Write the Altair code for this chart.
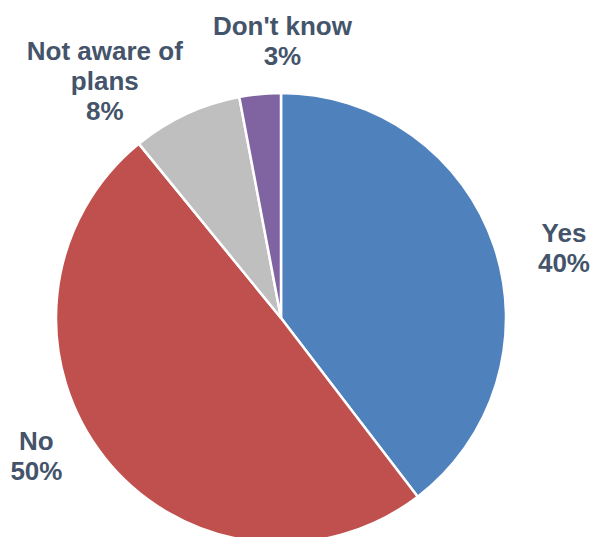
import altair as alt
import pandas as pd

categories = ["Yes", "No", "Not aware of plans", "Don't know"]
values = [40, 50, 8, 3]
labels = ["Yes\n40%", "No\n50%", "Not aware of\nplans\n8%", "Don't know\n3%"]
colors = ["#4F81BD", "#C0504D", "#BFBFBF", "#8064A2"]

df = pd.DataFrame({
    "cat": categories,
    "value": values,
    "label": labels,
    "idx": list(range(len(categories))),
})

CX, CY, R = 281, 318, 225
LR = 285
text_color = "#44546A"

base = alt.Chart(df).encode(
    theta=alt.Theta("value:Q", stack=True),
    order=alt.Order("idx:Q"),
    x=alt.value(CX),
    y=alt.value(CY),
)

arcs = base.mark_arc(outerRadius=R, stroke="white", strokeWidth=2.5).encode(
    color=alt.Color("cat:N", scale=alt.Scale(domain=categories, range=colors), legend=None)
)

offsets = [(13, 7), (-21, -53), (-56, -8), (28, -7)]
layers = [arcs]
for i, (ddx, ddy) in enumerate(offsets):
    layers.append(
        base.mark_text(
            radius=LR, dx=ddx, dy=ddy, lineBreak="\n", font="Liberation Sans",
            fontSize=26, fontWeight="bold", color=text_color, align="center",
            baseline="middle", lineHeight=30,
        ).encode(text=alt.condition(f"datum.idx == {i}", "label:N", alt.value("")))
    )

chart = alt.layer(*layers).properties(
    width=593, height=537, autosize=alt.AutoSizeParams(type="none"), padding=0
).configure_view(stroke=None)

chart.save("out.html", embed_options={"renderer": "svg", "actions": False})
